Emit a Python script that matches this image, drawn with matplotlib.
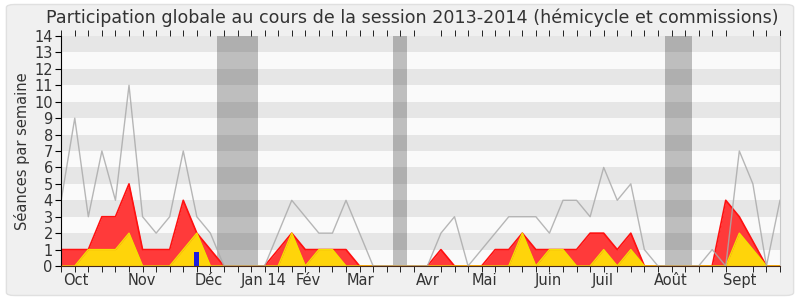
import numpy as np
import matplotlib
matplotlib.use("Agg")
import matplotlib.pyplot as plt
from matplotlib.patches import FancyBboxPatch

# weekly values, session 2013-2014
weeks = np.arange(54)
total_seances = [4, 9, 3, 7, 4, 11, 3, 2, 3, 7, 3, 2, 0, 0, 0, 0, 2, 4, 3, 2,
                 2, 4, 2, 0, 0, 0, 0, 0, 2, 3, 0, 1, 2, 3, 3, 3, 2, 4, 4, 3,
                 6, 4, 5, 1, 0, 0, 0, 0, 1, 0, 7, 5, 0, 4]
presences = [1, 1, 1, 3, 3, 5, 1, 1, 1, 4, 2, 1, 0, 0, 0, 0, 1, 2, 1, 1,
             1, 1, 0, 0, 0, 0, 0, 0, 1, 0, 0, 0, 1, 1, 2, 1, 1, 1, 1, 2,
             2, 1, 2, 0, 0, 0, 0, 0, 0, 4, 3, 1.5, 0, 0]
hemicycle = [0, 0, 1, 1, 1, 2, 0, 0, 0, 1, 2, 0, 0, 0, 0, 0, 0, 2, 0, 1,
             1, 0, 0, 0, 0, 0, 0, 0, 0, 0, 0, 0, 0, 0, 2, 0, 1, 1, 0, 0,
             1, 0, 1, 0, 0, 0, 0, 0, 0, 0, 2, 1, 0, 0]
questions = [0] * 54
questions[10] = 0.85
vacances = [(11.5, 14.5), (24.5, 25.5), (44.5, 46.5)]

month_labels = ["Oct", "Nov", "Déc", "Jan 14", "Fév", "Mar", "Avr", "Mai",
                "Juin", "Juil", "Août", "Sept"]
month_pos = [1.1, 5.95, 10.9, 14.9, 18.2, 22.1, 27.0, 31.2, 35.9, 39.9, 44.95, 50.0]

fig = plt.figure(figsize=(8, 3), dpi=100, facecolor="white")
fig.patches.append(FancyBboxPatch((0.008, 0.015), 0.984, 0.97,
                                  boxstyle="round,pad=0,rounding_size=0.01",
                                  transform=fig.transFigure, facecolor="#f0f0f0",
                                  edgecolor="#e0e0e0", linewidth=1, zorder=-10))
ax = fig.add_axes([0.0765, 0.1133, 0.8985, 0.7667])
ax.set_facecolor("#fafafa")

# horizontal stripes + holidays
for y in range(1, 14, 2):
    ax.axhspan(y, y + 1, color="#e6e6e6", lw=0, zorder=0)
for a, b in vacances:
    ax.axvspan(a, b, color="black", alpha=0.24, lw=0, zorder=1)

ax.fill_between(weeks, presences, color="#ff3a3a", lw=0, zorder=2)
ax.plot(weeks, presences, color="#ff1010", lw=1.2, zorder=2.1)
ax.fill_between(weeks, hemicycle, color="#ffd40a", lw=0, zorder=3)
ax.plot(weeks, hemicycle, color="#f4e000", lw=1, zorder=3.1)
ax.plot(weeks, total_seances, color="#aaaaaa", lw=1, alpha=0.85, zorder=4)
ax.bar(weeks, questions, width=0.37, color="#1c1ce0", zorder=5)

ax.set_xlim(0, 53)
ax.set_ylim(0, 14)
ax.set_yticks(range(15))
ax.tick_params(axis="y", labelsize=10.5, length=4, color="black", pad=2, labelcolor="#333333")
ax.set_xticks(month_pos)
ax.set_xticklabels(month_labels, fontsize=10.5, color="#333333")
ax.set_xticks(weeks, minor=True)
ax.tick_params(axis="x", which="major", length=0, pad=5)
ax.tick_params(axis="x", which="minor", length=4, color="black", top=True)
ax.set_ylabel("Séances par semaine", fontsize=10.5, color="#333333", labelpad=3)

ax.spines["top"].set_visible(False)
ax.spines["right"].set_color("#c8c8c8")
ax.spines["bottom"].set_color("#4a2a1a")
ax.spines["bottom"].set_zorder(10)
ax.spines["left"].set_color("black")
ax.spines["left"].set_zorder(10)

fig.text(0.515, 0.94, "Participation globale au cours de la session 2013-2014 (hémicycle et commissions)",
         ha="center", va="center", fontsize=12.6, color="#333333")

fig.savefig("out.png", dpi=100, facecolor=fig.get_facecolor())
